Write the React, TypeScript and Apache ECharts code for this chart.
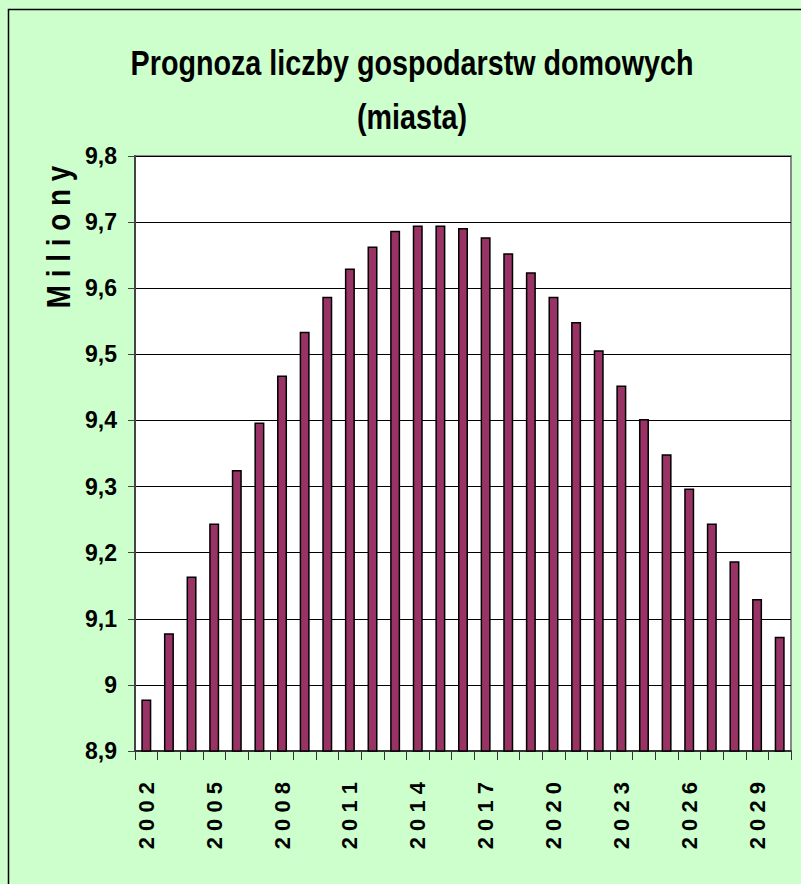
import React, { useEffect, useRef } from 'react';
import * as echarts from 'echarts';

const titleLines = ['Prognoza liczby gospodarstw domowych', '(miasta)'];
const yAxisTitle = 'M i l i o n y';
const years = [
  '2002', '2003', '2004', '2005', '2006', '2007', '2008', '2009', '2010', '2011',
  '2012', '2013', '2014', '2015', '2016', '2017', '2018', '2019', '2020', '2021',
  '2022', '2023', '2024', '2025', '2026', '2027', '2028', '2029', '2030',
];
const households = [
  8.978, 9.078, 9.164, 9.244, 9.325, 9.397, 9.468, 9.534, 9.587, 9.630,
  9.663, 9.687, 9.695, 9.695, 9.691, 9.677, 9.653, 9.624, 9.587, 9.549,
  9.506, 9.453, 9.402, 9.349, 9.297, 9.244, 9.187, 9.130, 9.073,
];
const yMin = 8.9;
const yMax = 9.8;
const yStep = 0.1;

const FONT = "'Liberation Sans', Arial, sans-serif";

export default function App() {
  const ref = useRef<HTMLDivElement>(null);
  useEffect(() => {
    if (!ref.current) return;
    const chart = echarts.init(ref.current, null, { renderer: 'svg' });
    chart.setOption({
      animation: false,
      backgroundColor: '#CCFFCC',
      graphic: [
        {
          type: 'rect',
          shape: { x: 8.5, y: 9.5, width: 900, height: 900 },
          style: { fill: 'none', stroke: '#000', lineWidth: 1.5 },
          z: 0,
        },
        {
          type: 'text',
          x: 412,
          y: 63,
          scaleX: 0.82,
          style: {
            text: titleLines[0],
            fontFamily: FONT,
            fontWeight: 'bold',
            fontSize: 35,
            fill: '#000',
            align: 'center',
            verticalAlign: 'middle',
          },
        },
        {
          type: 'text',
          x: 412,
          y: 117,
          scaleX: 0.82,
          style: {
            text: titleLines[1],
            fontFamily: FONT,
            fontWeight: 'bold',
            fontSize: 35,
            fill: '#000',
            align: 'center',
            verticalAlign: 'middle',
          },
        },
        {
          type: 'text',
          x: 59,
          y: 237,
          rotation: Math.PI / 2,
          scaleX: 0.82,
          style: {
            text: yAxisTitle,
            fontFamily: FONT,
            fontWeight: 'bold',
            fontSize: 34,
            fill: '#000',
            align: 'center',
            verticalAlign: 'middle',
          },
        },
      ],
      grid: {
        left: 135,
        right: 10,
        top: 156,
        bottom: 133,
        show: true,
        backgroundColor: '#FFFFFF',
        borderColor: '#888888',
        borderWidth: 2,
      },
      xAxis: {
        type: 'category',
        data: years,
        boundaryGap: true,
        axisLine: { show: true, lineStyle: { color: '#333', width: 2 } },
        axisTick: { show: true, interval: 0, length: 9, lineStyle: { color: '#333', width: 1 } },
        axisLabel: {
          interval: 2,
          rotate: 90,
          margin: 31,
          fontFamily: FONT,
          fontWeight: 'bold',
          fontSize: 22,
          color: '#000',
          formatter: (v: string) => v.split('').join(' '),
        },
      },
      yAxis: {
        type: 'value',
        min: yMin,
        max: yMax,
        interval: yStep,
        axisLine: { show: true, lineStyle: { color: '#444', width: 2 } },
        axisTick: { show: true, inside: false, length: 7, lineStyle: { color: '#444', width: 1 } },
        splitLine: { show: true, lineStyle: { color: '#000', width: 1 } },
        axisLabel: {
          margin: 18,
          fontFamily: FONT,
          fontWeight: 'bold',
          fontSize: 23,
          color: '#000',
          formatter: (v: number) => String(Number(v.toFixed(1))).replace('.', ','),
        },
      },
      series: [
        {
          type: 'bar',
          data: households,
          barWidth: 10,
          itemStyle: { color: '#993366', borderColor: '#000', borderWidth: 1.5 },
        },
      ],
    });
    return () => chart.dispose();
  }, []);
  return (
    <div
      ref={ref}
      style={{ position: 'absolute', left: 0, top: 0, width: 801, height: 884, background: '#CCFFCC' }}
    />
  );
}
